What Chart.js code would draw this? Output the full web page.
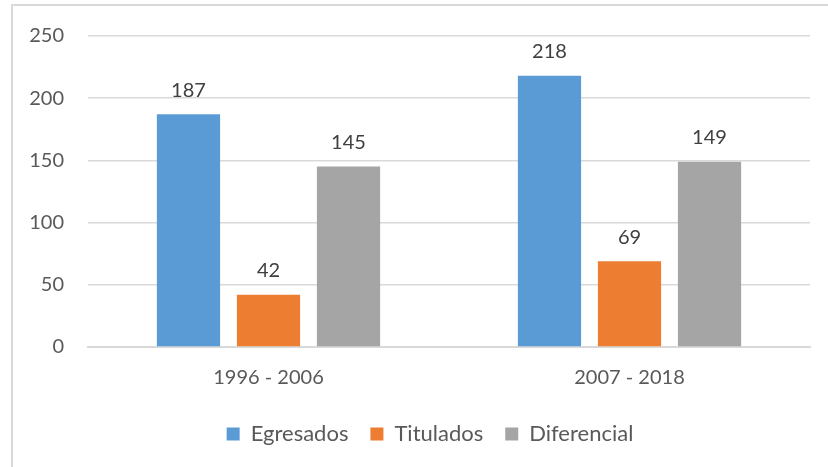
<!DOCTYPE html>
<html><head><meta charset="utf-8">
<script src="https://cdn.jsdelivr.net/npm/chart.js@4.4.1/dist/chart.umd.min.js"></script>
<style>
html,body{margin:0;padding:0;background:#fff;}
#wrap{position:absolute;left:0;top:0;width:828px;height:467px;}
#frame{position:absolute;left:11px;top:4px;width:830px;height:470px;border-left:2px solid #d9d9d9;border-top:2px solid #d9d9d9;box-sizing:border-box;pointer-events:none;}
</style></head>
<body>
<div id="wrap"><canvas id="c" width="828" height="467"></canvas><div id="frame"></div></div>
<script>
const categories = ["1996 - 2006", "2007 - 2018"];
const egresados = [187, 218];
const titulados = [42, 69];
const diferencial = [145, 149];
const yTicks = [0, 50, 100, 150, 200, 250];

const FONT = "Lato, 'Liberation Sans', sans-serif";

const labelPlugin = {
  id: 'vals',
  afterLayout(chart) {
    if (chart.legend) { chart.legend.left += 25; chart.legend.right += 25; }
  },
  afterDatasetsDraw(chart) {
    const ctx = chart.ctx;
    ctx.save();
    ctx.font = "20px " + FONT;
    ctx.fillStyle = "#404040";
    ctx.textAlign = "center";
    ctx.textBaseline = "bottom";
    chart.data.datasets.forEach((ds, i) => {
      chart.getDatasetMeta(i).data.forEach((bar, j) => {
        ctx.fillText(String(ds.data[j]), bar.x, bar.y - 14);
      });
    });
    ctx.restore();
  }
};

new Chart(document.getElementById('c'), {
  type: 'bar',
  data: {
    labels: categories,
    datasets: [
      {label: 'Egresados', data: egresados, backgroundColor: '#5B9BD5'},
      {label: 'Titulados', data: titulados, backgroundColor: '#ED7D31'},
      {label: 'Diferencial', data: diferencial, backgroundColor: '#A5A5A5'}
    ]
  },
  options: {
    responsive: false,
    animation: false,
    devicePixelRatio: 1,
    layout: {padding: {left: 0, right: 18, top: 19, bottom: 12}},
    datasets: {bar: {categoryPercentage: 0.665, barPercentage: 0.79}},
    plugins: {
      legend: {
        position: 'bottom',
        labels: {
          font: {family: FONT, size: 22},
          color: '#595959',
          boxWidth: 13, boxHeight: 13,
          padding: 22
        }
      },
      tooltip: {enabled: false}
    },
    scales: {
      x: {
        grid: {display: false, drawTicks: false},
        border: {color: '#d9d9d9', width: 2},
        ticks: {font: {family: FONT, size: 20}, color: '#595959', padding: 19},
        afterFit(s) { s.height = 54; }
      },
      y: {
        min: 0, max: 250,
        afterBuildTicks(s) { s.ticks = yTicks.map(v => ({value: v})); },
        grid: {color: '#d9d9d9', lineWidth: 1.5, drawTicks: false},
        border: {display: false},
        ticks: {font: {family: FONT, size: 20}, color: '#595959', padding: 24},
        afterFit(s) { s.width = 88; }
      }
    }
  },
  plugins: [labelPlugin]
});
</script>
</body></html>
